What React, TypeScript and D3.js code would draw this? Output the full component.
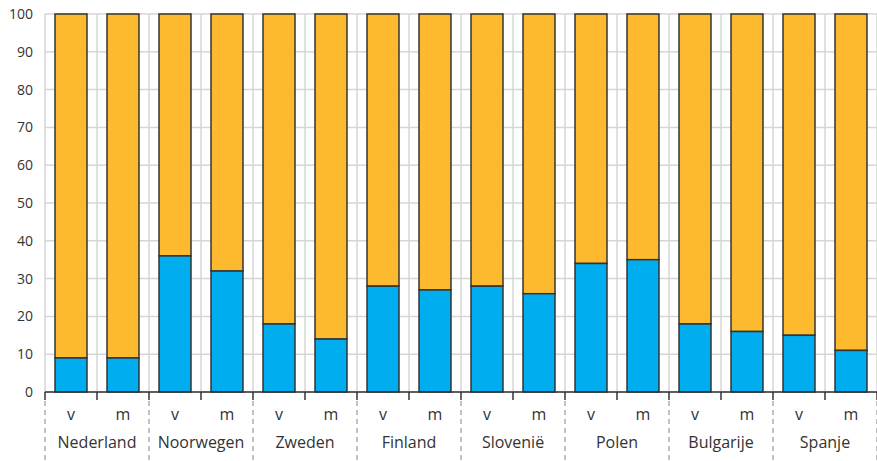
import React from "react";
import * as d3 from "d3";

const countries = ["Nederland", "Noorwegen", "Zweden", "Finland", "Slovenië", "Polen", "Bulgarije", "Spanje"];
const genders = ["v", "m"];
const blueValues = [9, 9, 36, 32, 18, 14, 28, 27, 28, 26, 34, 35, 18, 16, 15, 11];
const totalValue = 100;
const yTicks = [0, 10, 20, 30, 40, 50, 60, 70, 80, 90, 100];

const W = 877;
const H = 461;
const M = { left: 45, right: 0, top: 14, bottom: 69 };

export default function App() {
  const items = countries.flatMap((c, ci) => genders.map((g, gi) => ({ key: `${c}-${g}`, country: c, gender: g, blue: blueValues[ci * 2 + gi] })));
  const x = d3.scaleBand<string>().domain(items.map((d) => d.key)).range([M.left, W - M.right]).paddingInner(0.385).paddingOuter(0.1925);
  const y = d3.scaleLinear().domain([0, 100]).range([H - M.bottom, M.top]);
  const step = x.step();
  const bw = x.bandwidth();
  const x0 = M.left;
  const boundaries = d3.range(items.length + 1).map((i) => x0 + i * step);
  const font = "'Open Sans', sans-serif";
  const y0 = y(0);
  return (
    <svg width={W} height={H} style={{ position: "absolute", left: 0, top: 0, background: "#fff" }} fontFamily={font}>
      {yTicks.map((t) => (
        <line key={"h" + t} x1={M.left} x2={W} y1={y(t)} y2={y(t)} stroke="#d6d6d6" strokeWidth={1.5} />
      ))}
      {boundaries.map((b, i) => (
        <line key={"v" + i} x1={b} x2={b} y1={M.top} y2={y0} stroke="#d6d6d6" strokeWidth={1.5} />
      ))}
      {items.map((d) => {
        const bx = x(d.key)!;
        return (
          <g key={d.key}>
            <rect x={bx} y={y(totalValue)} width={bw} height={y(d.blue) - y(totalValue)} fill="#FDBA2F" stroke="#333" strokeWidth={1.5} />
            <rect x={bx} y={y(d.blue)} width={bw} height={y0 - y(d.blue)} fill="#00AEEF" stroke="#333" strokeWidth={1.5} />
          </g>
        );
      })}
      <line x1={M.left} x2={W} y1={y0} y2={y0} stroke="#333" strokeWidth={1.5} />
      {boundaries.map((b, i) => (
        <g key={"t" + i}>
          <line x1={b} x2={b} y1={y0} y2={y0 + 8} stroke="#333" strokeWidth={1.5} />
          {i % 2 === 0 && <line x1={b} x2={b} y1={y0 + 9} y2={H} stroke="#999" strokeWidth={1.2} strokeDasharray="5,4" />}
        </g>
      ))}
      {yTicks.map((t) => (
        <text key={"yl" + t} x={33} y={y(t) + 5} textAnchor="end" fontSize={14} fill="#333">{t}</text>
      ))}
      {items.map((d) => (
        <text key={"g" + d.key} x={x(d.key)! + bw / 2} y={420} textAnchor="middle" fontSize={16} fill="#333">{d.gender}</text>
      ))}
      {countries.map((c, ci) => (
        <text key={"c" + c} x={x0 + (ci * 2 + 1) * step} y={448} textAnchor="middle" fontSize={16} fill="#333">{c}</text>
      ))}
    </svg>
  );
}
